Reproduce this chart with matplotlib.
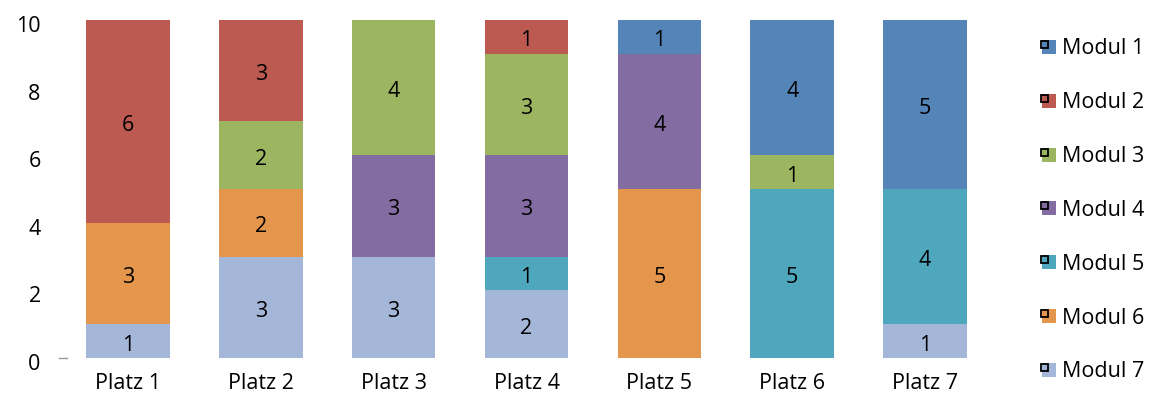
import matplotlib
matplotlib.use("Agg")
import matplotlib.pyplot as plt
from matplotlib.patches import Rectangle
from matplotlib.transforms import ScaledTranslation
import numpy as np

categories = ["Platz 1", "Platz 2", "Platz 3", "Platz 4", "Platz 5", "Platz 6", "Platz 7"]
modules = ["Modul 1", "Modul 2", "Modul 3", "Modul 4", "Modul 5", "Modul 6", "Modul 7"]
modul_1 = [0, 0, 0, 0, 1, 4, 5]
modul_2 = [6, 3, 0, 1, 0, 0, 0]
modul_3 = [0, 2, 4, 3, 0, 1, 0]
modul_4 = [0, 0, 3, 3, 4, 0, 0]
modul_5 = [0, 0, 0, 1, 0, 5, 4]
modul_6 = [3, 2, 0, 0, 5, 0, 0]
modul_7 = [1, 3, 3, 2, 0, 0, 1]
series = [modul_1, modul_2, modul_3, modul_4, modul_5, modul_6, modul_7]
colors = ["#5484B8", "#BC5A52", "#9BB560", "#836CA2", "#4EA7BD", "#E5964D", "#A4B7D9"]
yticks = [0, 2, 4, 6, 8, 10]

plt.rcParams['font.family'] = ['Open Sans', 'DejaVu Sans']
fs = 15.5

fig = plt.figure(figsize=(11.54, 4.03), dpi=100)
ax = fig.add_axes([61.5/1154, 1-358/403, (991.5-61.5)/1154, (358-20)/403])
down = ScaledTranslation(0, -4/100, fig.dpi_scale_trans)

x = np.arange(len(categories))
bottom = np.zeros(len(categories))
# stack from Modul 7 (bottom) to Modul 1 (top)
for name, vals, col in reversed(list(zip(modules, series, colors))):
    vals = np.array(vals, dtype=float)
    ax.bar(x, vals, 0.63, bottom=bottom, color=col, label=name)
    for xi, v, b in zip(x, vals, bottom):
        if v > 0:
            ax.text(xi, b + v/2, f"{int(v)}", ha='center', va='center', fontsize=fs,
                    color='black', transform=ax.transData + down)
    bottom += vals

ax.set_xlim(-0.5, len(categories) - 0.5)
ax.set_ylim(0, 10)
ax.set_yticks(yticks)
ax.set_xticks(x)
ax.set_xticklabels(categories)
ax.tick_params(axis='both', length=0, labelsize=fs)
ax.tick_params(axis='y', pad=15)
ax.tick_params(axis='x', pad=11)
for lab in ax.get_yticklabels():
    lab.set_transform(lab.get_transform() + down)
for s in ax.spines.values():
    s.set_visible(False)

# small grey mark at the axis origin, as in the reference
ax.plot([-0.52, -0.46], [0, 0], color='#999999', lw=1, clip_on=False)

# legend drawn manually in figure pixels
W, H = 1154, 403
for i, (name, col) in enumerate(zip(modules, colors)):
    yc = 47 + i*53.8
    fig.patches.append(Rectangle((1042/W, 1-(yc+7)/H), 14/W, 14/H, transform=fig.transFigure,
                                 facecolor=col, edgecolor='none'))
    fig.patches.append(Rectangle((1041/W, 1-(yc+1)/H), 7/W, 7/H, transform=fig.transFigure,
                                 facecolor='none', edgecolor='black', linewidth=1.3))
    fig.text(1062/W, 1-(yc+2)/H, name, fontsize=fs, va='center', ha='left')

fig.savefig("out.png", dpi=100)
